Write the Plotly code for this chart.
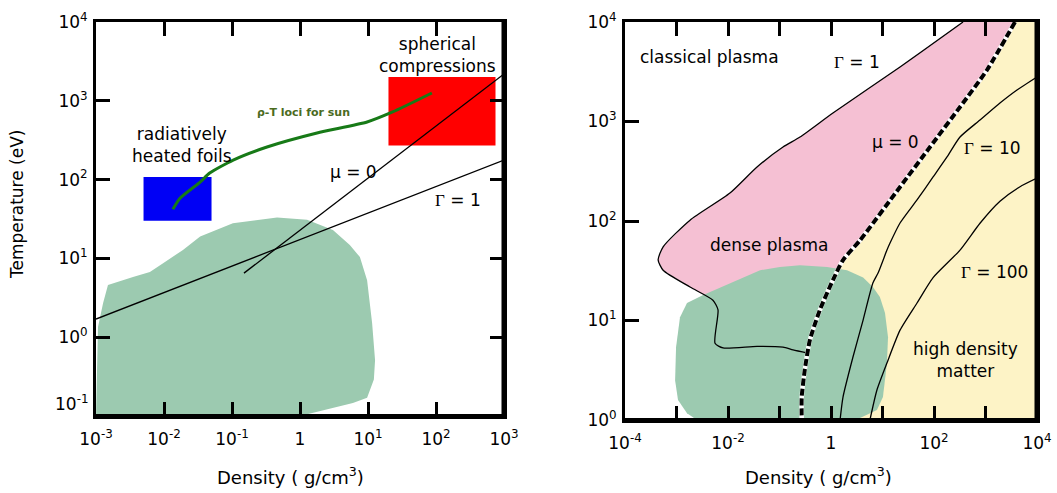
import plotly.graph_objects as go

W, H = 1057, 493
FONT = "DejaVu Sans"

# ---------------- left panel: laboratory regimes ----------------
left_xticks = [1e-3, 1e-2, 1e-1, 1, 1e1, 1e2, 1e3]
left_xlabels = ["10<sup>-3</sup>", "10<sup>-2</sup>", "10<sup>-1</sup>", "1",
                "10<sup>1</sup>", "10<sup>2</sup>", "10<sup>3</sup>"]
left_yticks = [1e-1, 1e0, 1e1, 1e2, 1e3, 1e4]
left_ylabels = ["", "10<sup>0</sup>", "10<sup>1</sup>", "10<sup>2</sup>",
                "10<sup>3</sup>", "10<sup>4</sup>"]

# solid-density / warm dense matter region
blob_left_rho = [1e-3, 1.07e-3, 1.27e-3, 1.5e-3, 3.5e-3, 6.2e-3, 9.7e-3, 0.019,
                 0.034, 0.103, 0.46, 1.27, 3.05, 5.4, 7.6, 9.7, 11.5, 12.7,
                 12.2, 9.7, 6.0, 3.05, 1.55, 1.0]
blob_left_T = [0.1, 1.35, 2.7, 4.6, 5.8, 6.7, 8.7, 12.8, 19, 28, 33, 31, 23,
               14.8, 10.4, 5.3, 1.5, 0.51, 0.29, 0.17, 0.146, 0.126, 0.109, 0.1]

foils_rho = [0.005, 0.05]
foils_T = [30, 108]
compress_rho = [20, 750]
compress_T = [270, 2000]

sun_rho = [0.0135, 0.0172, 0.034, 0.047, 0.104, 0.327, 1.78, 9.7, 23, 87]
sun_T = [42, 58, 93, 121, 177, 259, 390, 538, 721, 1256]

mu0_left_rho = [0.15, 1000]
mu0_left_T = [6.5, 2190]
gamma1_left_rho = [1e-3, 1e3]
gamma1_left_T = [1.7, 177]

# ---------------- right panel: plasma classification ----------------
right_xticks = [1e-4, 1e-3, 1e-2, 1e-1, 1, 1e1, 1e2, 1e3, 1e4]
right_xlabels = ["10<sup>-4</sup>", "", "10<sup>-2</sup>", "", "1", "",
                 "10<sup>2</sup>", "", "10<sup>4</sup>"]
right_yticks = [1e0, 1e1, 1e2, 1e3, 1e4]
right_ylabels = ["10<sup>0</sup>", "10<sup>1</sup>", "10<sup>2</sup>",
                 "10<sup>3</sup>", "10<sup>4</sup>"]

gamma1_rho = [366, 21.9, 1.09, 0.25, 0.117, 0.0366, 0.0109, 0.00183, 5.5e-4,
              4.4e-4, 5.5e-4, 1.83e-3, 5.1e-3, 6.4e-3, 5.6e-3, 8e-3, 0.0366,
              0.117, 0.183, 0.354]
gamma1_T = [1e4, 3530, 1217, 698, 554, 349, 191, 102, 55, 40.6, 32, 21.7,
            16, 12.8, 5.9, 5.3, 5.5, 5.4, 5.06, 4.7]

mu0_rho = [3740, 1070, 320, 83.6, 21.9, 3.66, 1.71, 1.09, 0.61, 0.39,
           0.31, 0.27, 0.27]
mu0_T = [1e4, 3295, 1400, 554, 220, 64, 40.5, 25.5, 12.8, 6.4, 3.2,
         1.7, 1.0]

gamma10_rho = [1e4, 4090, 1910, 782, 320, 179, 96, 46.8, 21.9, 14, 12.2, 8.2,
               6.5, 4.2, 2.67, 1.71, 1.5]
gamma10_T = [2800, 2075, 1535, 1035, 698, 440, 277, 163, 95.5, 60, 51, 30,
             23.8, 10.1, 4.3, 1.7, 1.0]

gamma100_rho = [1e4, 4600, 1910, 782, 320, 96, 46.8, 21.9, 12.2, 7.8, 5.7]
gamma100_T = [270, 220, 158, 95, 51, 27, 15, 8.0, 3.74, 2.0, 1.0]

blob_right_rho = [2.3, 3.66, 7.8, 10.2, 12.2, 12.8, 11.2, 8.9, 6.5, 4.2, 2.05,
                  0.84, 0.25, 0.102, 0.042, 0.0109, 3.3e-3, 1.6e-3, 1.17e-3,
                  9.8e-4, 9.4e-4, 1.07e-3, 1.6e-3, 2.5e-3]
blob_right_T = [1.0, 1.05, 1.26, 1.7, 3.74, 6.8, 11.9, 17.2, 21.7, 27, 32,
                34.5, 36, 34.5, 32, 23.8, 18, 15, 10.8, 5.4, 2.5, 1.59, 1.17, 1.0]

PINK = "#f5c0d3"
YELLOW = "#fdf3c6"
GREEN = "#9ccab0"


def px(p):
    return p / W


def py(p):
    return 1 - p / H


fig = go.Figure()


def poly(xs, ys, color, xa, ya):
    fig.add_trace(go.Scatter(x=xs, y=ys, mode="lines", fill="toself",
                             fillcolor=color, line=dict(width=0, color=color),
                             xaxis=xa, yaxis=ya, hoverinfo="skip"))


def curve(xs, ys, xa, ya, width=1.3, color="black", dash=None):
    fig.add_trace(go.Scatter(x=xs, y=ys, mode="lines",
                             line=dict(width=width, color=color, dash=dash,
                                       shape="spline", smoothing=0.6),
                             xaxis=xa, yaxis=ya, hoverinfo="skip"))


def rect(xr, yr, color, xa, ya):
    poly([xr[0], xr[1], xr[1], xr[0], xr[0]],
         [yr[0], yr[0], yr[1], yr[1], yr[0]], color, xa, ya)


# left panel
poly(blob_left_rho, blob_left_T, GREEN, "x", "y")
rect(foils_rho, foils_T, "#0000f5", "x", "y")
rect(compress_rho, compress_T, "#ff0000", "x", "y")
curve(mu0_left_rho, mu0_left_T, "x", "y")
curve(gamma1_left_rho, gamma1_left_T, "x", "y")
curve(sun_rho, sun_T, "x", "y", width=3, color="#177a17")

# right panel: dense plasma lies between Gamma=1 and mu=0
upper_mu = [(r, t) for r, t in zip(mu0_rho, mu0_T) if t > gamma1_T[-1]]
pink_rho = gamma1_rho + [r for r, _ in reversed(upper_mu)]
pink_T = gamma1_T + [t for _, t in reversed(upper_mu)]
poly(pink_rho, pink_T, PINK, "x2", "y2")
poly(mu0_rho + [1e4, 1e4], mu0_T + [1.0, 1e4], YELLOW, "x2", "y2")
poly(blob_right_rho, blob_right_T, GREEN, "x2", "y2")
curve(gamma1_rho, gamma1_T, "x2", "y2")
curve(gamma10_rho, gamma10_T, "x2", "y2")
curve(gamma100_rho, gamma100_T, "x2", "y2")
curve(mu0_rho, mu0_T, "x2", "y2", width=4.5, color="white")
curve(mu0_rho, mu0_T, "x2", "y2", width=4, color="black", dash="7px,3px")

axis_common = dict(type="log", showgrid=False, zeroline=False, showline=True,
                   linewidth=3, linecolor="black", ticks="inside", ticklen=14,
                   tickwidth=3, tickcolor="#000000", tickmode="array",
                   automargin=False, layer="above traces",
                   tickfont=dict(family=FONT, size=17, color="black"))

fig.update_layout(
    template="none",
    width=W, height=H, autosize=False, showlegend=False,
    margin=dict(l=0, r=0, t=0, b=0, autoexpand=False),
    paper_bgcolor="white", plot_bgcolor="white",
    font=dict(family=FONT, size=17, color="black"),
    xaxis=dict(axis_common, domain=[px(96), px(504)], range=[-3, 3],
               tickvals=left_xticks, ticktext=left_xlabels, mirror="ticks",
               anchor="y", ticklabelstandoff=6),
    yaxis=dict(axis_common, domain=[py(416), py(22)], range=[-1, 4],
               tickvals=left_yticks, ticktext=left_ylabels, mirror="ticks",
               anchor="x", ticklabelstandoff=2),
    xaxis2=dict(axis_common, domain=[px(625), px(1037)], range=[-4, 4],
                tickvals=right_xticks, ticktext=right_xlabels, mirror="ticks",
                anchor="y2", ticklabelstandoff=6),
    yaxis2=dict(axis_common, domain=[py(420), py(22)], range=[0, 4],
                tickvals=right_yticks, ticktext=right_ylabels, mirror=True,
                anchor="x2", ticklabelstandoff=2),
)

# heavier right and bottom frame edges
for xa, ya in (("x", "y"), ("x2", "y2")):
    fig.add_shape(type="line", xref=f"{xa} domain", yref=f"{ya} domain",
                  x0=1, x1=1, y0=0, y1=1, line=dict(color="black", width=5))
    fig.add_shape(type="line", xref=f"{xa} domain", yref=f"{ya} domain",
                  x0=0, x1=1, y0=0, y1=0, line=dict(color="black", width=4))

GAMMA = "<span style='font-family:Liberation Serif'>Γ</span>"


def note(text, x, y, size=17, color="black", angle=0, xanchor="center"):
    fig.add_annotation(text=text, x=px(x), y=py(y), xref="paper", yref="paper",
                       showarrow=False, xanchor=xanchor, yanchor="middle",
                       textangle=angle,
                       font=dict(family=FONT, size=size, color=color))


# axis titles
note("Temperature (eV)", 17, 205, angle=-90)
note("Density ( g/cm<sup>3</sup>)", 290, 476, size=18)
note("Density ( g/cm<sup>3</sup>)", 818, 476, size=18)
note("10<sup>-1</sup>", 91, 403, xanchor="right")

# left panel labels
note("spherical<br>compressions", 437, 55)
note("radiatively<br>heated foils", 182, 145)
note("μ = 0", 353, 172)
note(GAMMA + " = 1", 458, 200)
note("<b>ρ-T loci for sun</b>", 303, 112, size=11, color="#4b6b1e")

# right panel labels
note("classical plasma", 709, 57)
note(GAMMA + " = 1", 857, 62)
note("μ = 0", 895, 142)
note(GAMMA + " = 10", 992, 148)
note("dense plasma", 769, 245)
note(GAMMA + " = 100", 994, 272)
note("high density<br>matter", 965, 360)

fig.write_html("out.html")
